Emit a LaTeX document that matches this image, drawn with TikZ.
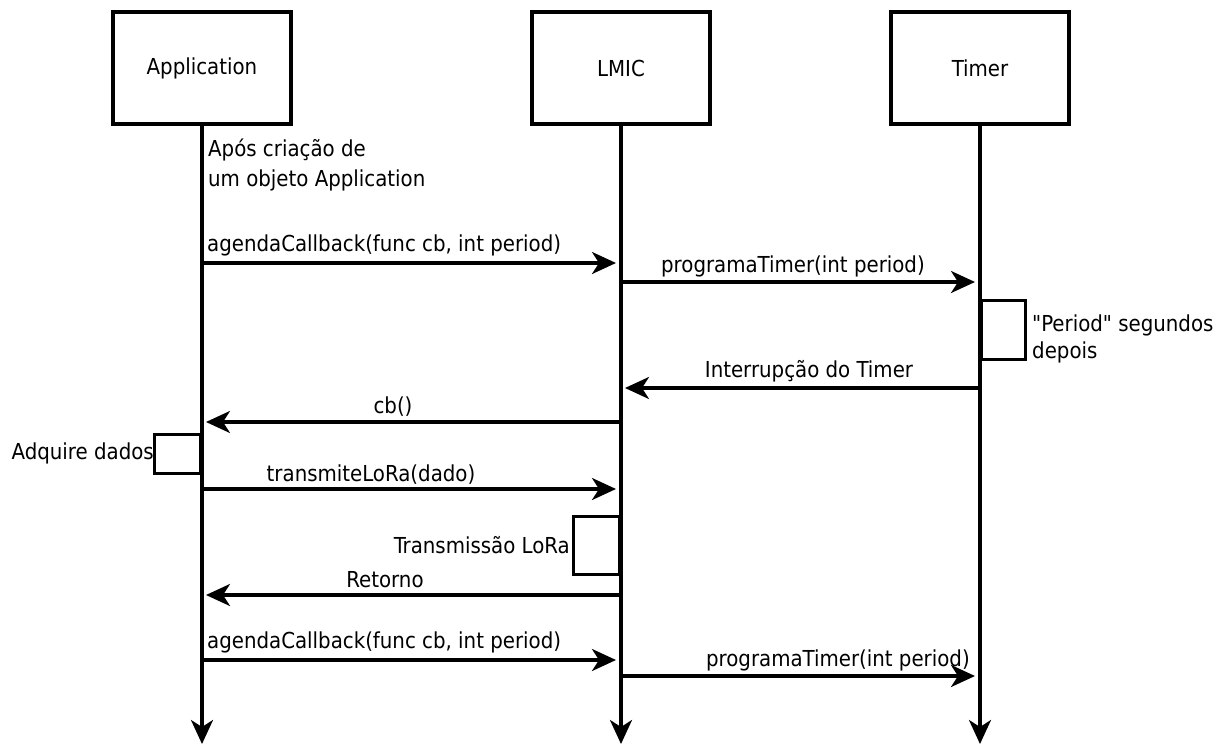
\documentclass[tikz,border=0pt]{standalone}
\usepackage{fontspec}
% a family without TeX ligatures keeps the straight double quote
\newfontfamily\diagfont{DejaVu Sans Condensed}
\usetikzlibrary{arrows.meta}
\begin{document}
\begin{tikzpicture}[x=1pt,y=-1pt,
  every node/.style={font=\diagfont\fontsize{22}{30}\selectfont, inner sep=0pt},
  lane/.style={draw, line width=4pt, minimum width=178pt, minimum height=112pt},
  actbox/.style={draw, line width=3.2pt, fill=white, anchor=north east},
  tip/.style={-{Stealth[length=24pt,width=22pt,inset=7pt]}},
  msg/.style={line width=3.2pt, tip},
  life/.style={line width=3.2pt, tip},
]
\useasboundingbox (0,0) rectangle (1224,744);

% participants
\node[lane] (app)  at (202,68) {Application};
\node[lane] (lmic) at (621,68) {LMIC};
\node[lane] (tmr)  at (980,68) {Timer};

% lifeline ends
\coordinate (appEnd)  at (202,744);
\coordinate (lmicEnd) at (621,744);
\coordinate (tmrEnd)  at (980,744);
\draw[life] (app.south)  -- (appEnd);
\draw[life] (lmic.south) -- (lmicEnd);
\draw[life] (tmr.south)  -- (tmrEnd);

% activation boxes
\node[actbox, anchor=north west, minimum width=44pt, minimum height=59pt] (wait) at (980,299) {};
\node[actbox, minimum width=46pt, minimum height=39pt] (acq) at (202,433) {};
\node[actbox, minimum width=46pt, minimum height=58pt] (tx) at (621,515) {};

% message end points on the lifelines
\coordinate (a1) at (202,263);  \coordinate (l1) at (616,263);
\coordinate (l2) at (621,282);  \coordinate (t2) at (975,282);
\coordinate (t3) at (980,388);  \coordinate (l3) at (625,388);
\coordinate (l4) at (621,422);  \coordinate (a4) at (206,422);
\coordinate (a5) at (202,489);  \coordinate (l5) at (616,489);
\coordinate (l6) at (621,595);  \coordinate (a6) at (206,595);
\coordinate (a7) at (202,660);  \coordinate (l7) at (616,660);
\coordinate (l8) at (621,676);  \coordinate (t8) at (975,676);

\draw[msg] (a1) -- (l1);
\draw[msg] (l2) -- (t2);
\draw[msg] (t3) -- (l3);
\draw[msg] (l4) -- (a4);
\draw[msg] (a5) -- (l5);
\draw[msg] (l6) -- (a6);
\draw[msg] (a7) -- (l7);
\draw[msg] (l8) -- (t8);

% labels (base anchor of a two-line node sits on its last line)
\node[anchor=base west, align=left] (note) at (208,186) {Após criação de\\um objeto Application};
\node[anchor=base west] (m1) at (207,251) {agendaCallback(func cb, int period)};
\node[anchor=base] (m2) at (793,272) {programaTimer(int period)};
\node[anchor=base west, align=left, font=\diagfont\fontsize{22}{27}\selectfont] (waitLbl) at (1032,358) {"Period" segundos\\depois};
\node[anchor=base] (m3) at (809,377) {Interrupção do Timer};
\node[anchor=base] (m4) at (393,413) {cb()};
\node[anchor=base east] (acqLbl) at (154,459) {Adquire dados};
\node[anchor=base] (m5) at (371,481) {transmiteLoRa(dado)};
\node[anchor=base east] (txLbl) at (570,553) {Transmissão LoRa};
\node[anchor=base] (m6) at (385,587) {Retorno};
\node[anchor=base west] (m7) at (207,648) {agendaCallback(func cb, int period)};
\node[anchor=base east] (m8) at (970,666) {programaTimer(int period)};
\end{tikzpicture}
\end{document}
